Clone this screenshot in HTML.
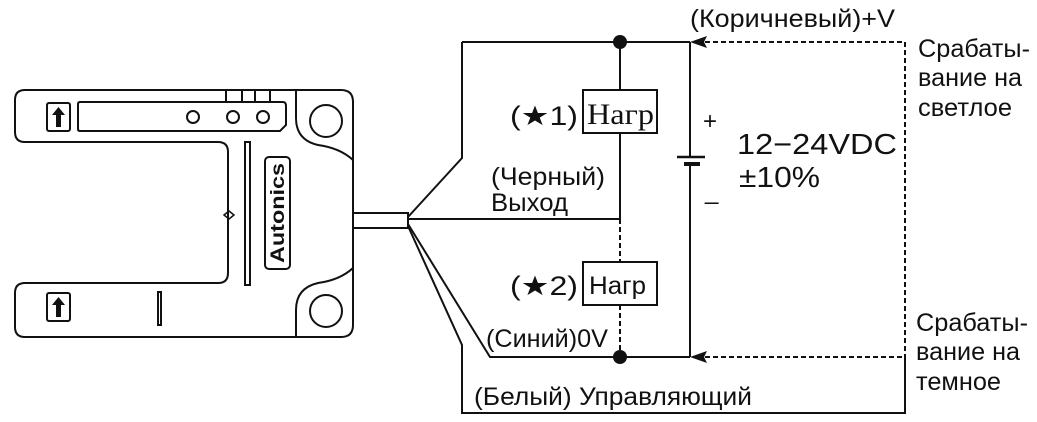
<!DOCTYPE html>
<html><head><meta charset="utf-8"><style>
html,body{margin:0;padding:0;background:#fff}
svg{display:block}
text{font-family:"Liberation Sans",sans-serif;fill:#111}
</style></head><body>
<svg width="1037" height="422" viewBox="0 0 1037 422" xmlns="http://www.w3.org/2000/svg">
<g fill="none" stroke="#111" stroke-width="2">
<path d="M25,90 H341 Q353,90 353,102 V325 Q353,337 341,337 H25 Q15,337 15,327 V293 Q15,283 25,283 H218 Q228,283 228,273 V152 Q228,142 218,142 H25 Q15,142 15,132 V100 Q15,90 25,90 Z"/>
<path d="M296,90 V118 Q296,140 318,145 Q340,148 353,160"/>
<path d="M353,268 Q340,280 318,283 Q296,288 296,310 V337"/>
<circle cx="326" cy="121" r="16"/>
<circle cx="326" cy="311" r="16"/>
<path d="M80,102 H283 Q286,102 286,106 V125 L280,131 H80 Q78,131 78,129 V104 Q78,102 80,102 Z"/>
<circle cx="193" cy="117" r="6"/>
<circle cx="233" cy="117" r="6"/>
<circle cx="263" cy="117" r="6"/>
<path d="M226,91 V102 M242,91 V102 M255,91 V102 M270,91 V102"/>
<rect x="47" y="103" width="23" height="28" rx="2"/>
<rect x="47" y="293" width="23" height="28" rx="2"/>
<rect x="245" y="142" width="5" height="143"/>
<rect x="158" y="292" width="3" height="33"/>
<path d="M224,215 L229,211 L234,215 L229,219 Z" stroke-width="1.5"/>
<rect x="265" y="157" width="25" height="112" rx="4"/>
<path d="M353,213 H408 V228 H353"/>
<path d="M462,42 H690"/>
<path d="M408,217 L462,158 V42"/>
<path d="M408,219 H620"/>
<path d="M408,224 L490,357 H690"/>
<path d="M408,226 L462,345 V413 H905 V355"/>
<path d="M620,42 V90 M620,133 V219"/>
<path d="M620,219 V262 M620,305 V357" stroke-dasharray="5,3"/>
<rect x="583" y="90" width="74" height="43"/>
<rect x="583" y="262" width="74" height="43"/>
<path d="M690,42 V157 M690,164 V357"/>
<path d="M677,157 H705" stroke-width="2.5"/>
<path d="M684,164 H700" stroke-width="4"/>
<path d="M705,42 H905 V355 M705,357 H905" stroke-dasharray="5,3"/>
</g>
<circle cx="620" cy="42" r="7" fill="#111"/>
<circle cx="620" cy="357" r="7" fill="#111"/>
<path d="M690,42 L707,36 L704,42 L707,48 Z" fill="#111"/>
<path d="M690,357 L707,351 L704,357 L707,363 Z" fill="#111"/>
<path d="M58.5,107 L65,115 H61 V127 H56 V115 H52 Z" fill="#111"/>
<path d="M58.5,297 L65,305 H61 V317 H56 V305 H52 Z" fill="#111"/>
<text transform="translate(284,213) rotate(-90)" text-anchor="middle" font-size="19" font-weight="bold" textLength="100" lengthAdjust="spacingAndGlyphs">Autonics</text>
<g font-size="25">
<text x="690" y="27" textLength="205" lengthAdjust="spacingAndGlyphs">(Коричневый)+V</text>
<text x="918" y="57" textLength="112" lengthAdjust="spacingAndGlyphs">Срабаты-</text>
<text x="918" y="86" textLength="104" lengthAdjust="spacingAndGlyphs">вание на</text>
<text x="918" y="116" textLength="94" lengthAdjust="spacingAndGlyphs">светлое</text>
<text x="916" y="331" textLength="112" lengthAdjust="spacingAndGlyphs">Срабаты-</text>
<text x="916" y="360" textLength="104" lengthAdjust="spacingAndGlyphs">вание на</text>
<text x="916" y="390" textLength="85" lengthAdjust="spacingAndGlyphs">темное</text>
<text x="491" y="185" textLength="114" lengthAdjust="spacingAndGlyphs">(Черный)</text>
<text x="491" y="211" textLength="77" lengthAdjust="spacingAndGlyphs">Выход</text>
<text x="486" y="347" textLength="122" lengthAdjust="spacingAndGlyphs">(Синий)0V</text>
<text x="474" y="405" textLength="278" lengthAdjust="spacingAndGlyphs">(Белый) Управляющий</text>
</g>
<text x="510" y="125" font-size="27" fill="#333" textLength="68" lengthAdjust="spacingAndGlyphs">(★1)</text>
<text x="510" y="295" font-size="27" fill="#333" textLength="68" lengthAdjust="spacingAndGlyphs">(★2)</text>
<text x="587" y="124" font-size="30" style="font-family:'Liberation Serif',serif" textLength="67" lengthAdjust="spacingAndGlyphs">Нагр</text>
<text x="589" y="294" font-size="25" textLength="57" lengthAdjust="spacingAndGlyphs">Нагр</text>
<text x="703" y="129" font-size="24" fill="#444">+</text>
<text x="705" y="199" font-size="24" fill="#444">_</text>
<text x="737" y="154" font-size="29" fill="#444" textLength="160" lengthAdjust="spacingAndGlyphs">12−24VDC</text>
<text x="739" y="187" font-size="29" fill="#444" textLength="81" lengthAdjust="spacingAndGlyphs">±10%</text>
</svg>
</body></html>
